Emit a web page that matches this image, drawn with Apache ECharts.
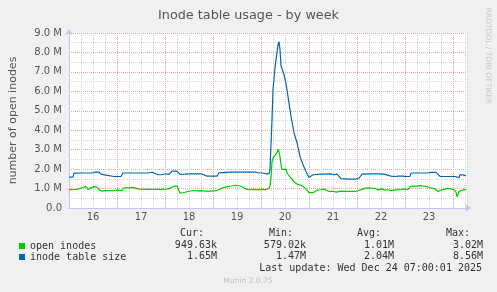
<!DOCTYPE html>
<html>
<head>
<meta charset="utf-8">
<script src="https://cdn.jsdelivr.net/npm/echarts@6/dist/echarts.min.js"></script>
<style>
html,body{margin:0;padding:0;background:#f0f0f0;}
#chart{width:497px;height:292px;}
</style>
</head>
<body>
<div id="chart"></div>
<script>
// Time axis: hours since Dec 16 00:00 (last update Dec 24 07:00)
var dayLabels = ['16','17','18','19','20','21','22','23'];
var seriesNames = ['open inodes', 'inode table size'];

// open inodes: [hour, millions]
var openInodes = [
[0,0.94],[1,0.85],[2,0.94],[3,1.02],[4.5,0.97],[6.5,1.04],[8.5,1.10],[9.5,0.96],[10.5,0.92],[12.5,1.10],
[14,1.07],[15.5,0.89],[17,0.87],[18.5,0.89],[20.5,0.90],[22.5,0.89],[24.5,0.92],[26.5,0.90],[27.5,1.03],[30,1.04],
[31.5,1.06],[33.5,1.02],[35,0.97],[37.5,0.96],[41.5,0.96],[46.5,0.96],[49,0.97],[50.5,1.01],[51.5,1.10],[52.5,1.13],
[54,1.13],[55,1.07],[55.5,0.76],[56.5,0.77],[58,0.81],[60,0.86],[62,0.90],[64,0.88],[66,0.89],[68.5,0.87],
[71,0.87],[73.5,0.89],[75,0.94],[76.5,1.03],[78.5,1.07],[81,1.13],[83.5,1.17],[84.5,1.17],[86,1.12],[87.5,1.03],
[89,0.96],[91,0.95],[93.5,0.94],[96,0.96],[98.5,0.95],[100,1.02],[100.5,1.15],[101,1.56],[101.5,2.38],[102,2.56],
[103,2.64],[104,2.84],[104.5,3.02],[105,2.89],[105.5,2.64],[106,2.23],[106.5,1.99],[107.5,2.07],[108.5,2.00],[109,1.81],
[110,1.66],[111,1.53],[112.5,1.35],[114,1.23],[116,1.17],[117.5,1.08],[119,0.92],[120,0.79],[121,0.74],[122,0.79],
[123,0.82],[124,0.92],[124.5,1.02],[125.5,0.94],[126.5,0.89],[127.5,0.97],[128.5,0.87],[130,0.85],[132,0.86],[133.5,0.82],
[134.5,0.89],[136,0.87],[138.5,0.85],[141,0.85],[143.5,0.86],[145,0.90],[146.5,0.96],[148,1.02],[149,1.06],[150.5,1.03],
[153,1.00],[154.5,0.93],[156,0.98],[158,0.92],[159.5,0.94],[161,0.89],[162,0.97],[163.5,0.93],[165.5,0.94],[167.5,0.98],
[169.5,0.94],[170.5,1.10],[172,1.13],[174,1.13],[175.5,1.15],[177.5,1.13],[179,1.10],[180.5,1.04],[181.5,0.98],[183,0.98],
[184.5,0.85],[185.5,0.89],[186.5,0.94],[188,0.97],[189.5,1.01],[191,0.98],[192.5,0.94],[193.5,0.81],[194,0.58],[195,0.84],
[196,0.90],[197.5,0.95],[198.5,0.95]
];

// inode table size: [hour, millions]
var inodeTable = [
[0,1.59],[2,1.59],[2.5,1.79],[6.5,1.80],[11.5,1.80],[13,1.84],[14,1.88],[15,1.85],[16,1.74],[17,1.70],
[18.5,1.69],[19.5,1.63],[22.5,1.62],[26,1.62],[26.5,1.64],[27,1.80],[31.5,1.80],[36.5,1.80],[39.5,1.80],[40.5,1.85],
[41.5,1.84],[42.5,1.74],[44.5,1.71],[46.5,1.71],[48,1.76],[49,1.75],[50,1.73],[51,1.74],[51.5,1.90],[52.5,1.90],
[54,1.90],[55,1.87],[55.5,1.73],[56.5,1.71],[58,1.74],[59.5,1.76],[62,1.76],[65,1.76],[66.5,1.75],[67.5,1.70],
[69,1.64],[72,1.64],[74,1.64],[75,1.81],[76,1.84],[81,1.84],[86,1.84],[91,1.84],[93.5,1.84],[94.5,1.76],
[95.5,1.80],[97,1.80],[98.5,1.76],[100,1.76],[100.5,1.97],[101.5,4.54],[102,6.08],[103,7.21],[103.5,7.62],[104.5,8.39],
[105,8.56],[105.5,8.14],[106,7.31],[107,7.02],[107.5,6.85],[108.5,6.40],[109.5,5.74],[111,4.71],[112.5,3.87],[114,3.36],
[115.5,2.65],[117,2.23],[118.5,1.88],[120,1.57],[121,1.59],[122,1.71],[122.5,1.75],[126,1.74],[128.5,1.74],[131,1.75],
[132.5,1.71],[134,1.74],[135,1.74],[136,1.51],[140,1.49],[143.5,1.49],[145,1.53],[146.5,1.74],[151,1.75],[155.5,1.75],
[157.5,1.74],[158.5,1.66],[161,1.64],[163,1.62],[164.5,1.64],[165.5,1.62],[167,1.64],[168.5,1.62],[170.5,1.63],[171,1.80],
[175.5,1.80],[179.5,1.80],[180.5,1.76],[181,1.83],[183.5,1.83],[184.5,1.76],[185.5,1.63],[190.5,1.62],[193,1.62],[194,1.52],
[195,1.56],[195.5,1.71],[197,1.70],[198.5,1.65]
];

var statHeaders = ['Cur:', 'Min:', 'Avg:', 'Max:'];
var openStats = ['949.63k', '579.02k', '1.01M', '3.02M'];
var tableStats = ['1.65M', '1.47M', '2.04M', '8.56M'];
var lastUpdate = 'Last update: Wed Dec 24 07:00:01 2025';

function toUnits(arr){ return arr.map(function(p){ return [p[0], p[1]*1e6]; }); }

var mono = '"DejaVu Sans Mono", monospace';
var sans = '"DejaVu Sans", sans-serif';
var red = '#f2a0a0', grey = '#d4d4d4', axisCol = '#c4c4f0';

var graphics = [];
var valueRight = [217, 306, 394, 483];
var headerRight = [204, 293, 381, 470];
statHeaders.forEach(function(h, i){
  graphics.push({type:'text', style:{text:h, x:headerRight[i], y:233, align:'right', verticalAlign:'middle', font:'10px '+mono, fill:'#333'}});
  graphics.push({type:'text', style:{text:openStats[i], x:valueRight[i], y:245, align:'right', verticalAlign:'middle', font:'10px '+mono, fill:'#333'}});
  graphics.push({type:'text', style:{text:tableStats[i], x:valueRight[i], y:256, align:'right', verticalAlign:'middle', font:'10px '+mono, fill:'#333'}});
});
graphics.push({type:'text', style:{text:lastUpdate, x:482, y:268, align:'right', verticalAlign:'middle', font:'10px '+mono, fill:'#333'}});
graphics.push({type:'text', style:{text:'Munin 2.0.75', x:248, y:281, align:'center', verticalAlign:'middle', font:'7.5px '+sans, fill:'#c0c0c0'}});
graphics.push({type:'text', x:488, y:56, rotation:-Math.PI/2, style:{text:'RRDTOOL / TOBI OETIKER', x:0, y:0, align:'center', verticalAlign:'middle', font:'7.5px '+sans, fill:'#c8c8c8'}});

var chart = echarts.init(document.getElementById('chart'), null, {renderer:'canvas'});
chart.setOption({
  animation: false,
  backgroundColor: '#f0f0f0',
  title: {
    text: 'Inode table usage - by week',
    left: 'center', top: 4,
    textStyle: {fontFamily: sans, fontSize: 12.8, fontWeight: 'normal', color: '#555'}
  },
  legend: {
    data: seriesNames,
    orient: 'vertical', left: 14, top: 235.5,
    icon: 'rect', itemWidth: 6, itemHeight: 6, itemGap: 0,
    textStyle: {fontFamily: mono, fontSize: 10, color: '#333', lineHeight: 11}
  },
  grid: {left: 67, right: 30, top: 33, bottom: 84, show: true, backgroundColor: '#fff', borderWidth: 0},
  xAxis: {
    type: 'value', min: 0, max: 199, interval: 6,
    axisLine: {show: true, lineStyle: {color: axisCol, width: 1}, symbol: ['none', 'arrow'], symbolSize: [6, 6], symbolOffset: [0, 4]},
    axisTick: {show: false},
    axisLabel: {
      margin: 4, color: '#555', fontFamily: sans, fontSize: 10,
      showMinLabel: true, showMaxLabel: true,
      formatter: function(v){
        if (Math.round(v) % 24 === 12) { return dayLabels[(Math.round(v) - 12) / 24] || ''; }
        return '';
      }
    },
    splitLine: {show: true, lineStyle: {color: [red, grey, grey, grey], type: [1, 1], width: 1}}
  },
  yAxis: {
    type: 'value', min: 0, max: 9e6, interval: 5e5,
    name: 'number of open inodes', nameLocation: 'middle', nameGap: 50, nameRotate: 90,
    nameTextStyle: {fontFamily: sans, fontSize: 11, color: '#555'},
    axisLine: {show: true, lineStyle: {color: axisCol, width: 1}, symbol: ['none', 'arrow'], symbolSize: [6, 6], symbolOffset: [0, 4]},
    axisTick: {show: false},
    axisLabel: {
      margin: 7, color: '#555', fontFamily: sans, fontSize: 10,
      formatter: function(v){
        var m = Math.round(v / 1e5);
        if (m % 10 !== 0) return '';
        if (m === 0) return '0.0';
        return (m / 10).toFixed(1) + ' M';
      }
    },
    splitLine: {show: true, lineStyle: {color: [red, grey], type: [1, 1], width: 1}}
  },
  series: [
    {name: seriesNames[0], type: 'line', data: toUnits(openInodes), showSymbol: false, color: '#00cc00', lineStyle: {width: 1.2, color: '#00cc00'}},
    {name: seriesNames[1], type: 'line', data: toUnits(inodeTable), showSymbol: false, color: '#0066b3', lineStyle: {width: 1.2, color: '#0066b3'}}
  ],
  graphic: graphics
});
</script>
</body>
</html>
